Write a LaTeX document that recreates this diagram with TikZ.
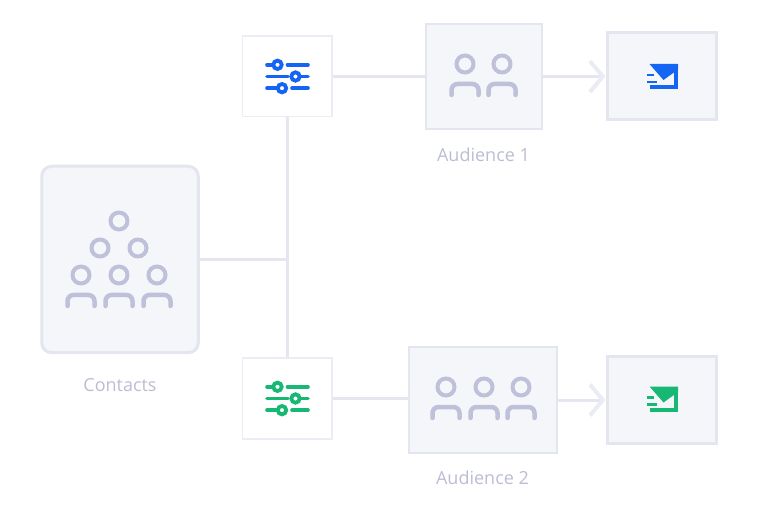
\documentclass[tikz,border=0pt]{standalone}
\usepackage{fontspec}
\setmainfont{Open Sans}
\usetikzlibrary{positioning,arrows.meta}
\definecolor{edgegray}{HTML}{E5E6F0}
\definecolor{tipgray}{HTML}{EAEBF3}
\definecolor{boxfill}{HTML}{F5F6FA}
\definecolor{boxline}{HTML}{E3E5EF}
\definecolor{iconblue}{HTML}{1565F5}
\definecolor{icongreen}{HTML}{16B873}
\definecolor{icongray}{HTML}{BFC1DA}
\definecolor{labelgray}{HTML}{BBBDD3}
\tikzset{
  >=stealth,
  group/.style={rectangle, rounded corners=10pt, draw=boxline, fill=boxfill,
    line width=3pt, minimum width=156.5pt, minimum height=186.5pt},
  filterbox/.style={rectangle, draw=boxline!70, fill=white, line width=1.5pt,
    minimum width=89.5pt, minimum height=80.5pt},
  audience/.style={rectangle, draw=boxline, fill=boxfill, line width=2pt,
    minimum height=105pt},
  mailbox/.style={rectangle, draw=boxline, fill=boxfill, line width=3pt,
    minimum width=109pt, minimum height=87pt},
  caption/.style={text=labelgray, font=\fontsize{18}{21}\selectfont, inner sep=0pt},
  wire/.style={draw=edgegray, line width=3pt},
  wiretip/.style={wire, -{Straight Barb[length=13pt, width=31pt, line width=4pt, color=tipgray]}},
  head/.pic={\draw[icongray, line width=4pt] (0,0) circle (8.5);},
  person/.pic={
    \draw[icongray, line width=4pt] (0,0) circle (8.5);
    \draw[icongray, line width=4.5pt, line cap=round, rounded corners=6pt]
      (-13.5,31) -- (-13.5,20) -- (13.5,20) -- (13.5,31);
  },
  sliders/.pic={
    \draw[#1, line width=3.6pt, line cap=round]
      (-20,-11.7) -- (-13,-11.7) (0.5,-11.7) -- (21,-11.7)
      (-20,0) -- (1,0) (11,0) -- (21,0)
      (-20,11.7) -- (-5,11.7) (5,11.7) -- (21,11.7);
    \foreach \x/\y in {-9.5/-11.7, 8.5/0, -5/11.7}
      \draw[#1, fill=white, line width=3.8pt] (\x,\y) circle (4.2);
  },
  envelope/.pic={
    \fill[#1] (-12.5,-12.5) -- (16,-12.5) -- (16,-7) -- (1.5,3.5) -- cycle;
    \draw[#1, line width=3.6pt] (14.2,-8) -- (14.2,10.7) -- (-12.5,10.7);
    \draw[#1, line width=2.6pt] (-15,-1.5) -- (-8,-1.5) (-15,5.5) -- (-5,5.5);
  },
}
\begin{document}
\begin{tikzpicture}[x=1pt, y=-1pt]
  \useasboundingbox (0,0) rectangle (776,526);
  % boxes
  \node[group] (contacts) at (120,259.5) {};
  \node[filterbox] (flta) at (287,76.5) {};
  \node[filterbox, below=240pt of flta] (fltb) {};
  \node[audience, minimum width=116pt, right=92pt of flta] (auda) {};
  \node[audience, minimum width=148pt, right=75pt of fltb, yshift=-1.5pt] (audb) {};
  \node[mailbox, right=63pt of auda] (maila) {};
  \node[mailbox, right=48pt of audb] (mailb) {};
  % labels
  \node[caption, below=24pt of contacts] (contactstxt) {Contacts};
  \node[caption, below=17.5pt of auda] (audatxt) {Audience 1};
  \node[caption, below=17.5pt of audb] (audbtxt) {Audience 2};
  % people
  \foreach \x/\y in {119/221, 100/248, 138/248}
    \pic at (\x,\y) {head};
  \foreach \x/\y in {81/275, 119/275, 157/275, 465/64, 502/64, 446/387, 484/387, 521/387}
    \pic at (\x,\y) {person};
  % icons
  \pic at (flta) {sliders=iconblue};
  \pic at (fltb) {sliders=icongreen};
  \pic at (662,76.5) {envelope=iconblue};
  \pic at (662,399) {envelope=icongreen};
  % connectors
  \coordinate (joint) at (flta |- contacts);
  \draw[wire] (flta) -- (fltb);
  \draw[wire] (contacts) -- (joint);
  \draw[wire] (flta) -- (auda);
  \draw[wire] (fltb.east) -- (fltb.east -| audb.west);
  \draw[wiretip] (auda) -- (maila);
  \draw[wiretip] (audb) -- (mailb);
\end{tikzpicture}
\end{document}
